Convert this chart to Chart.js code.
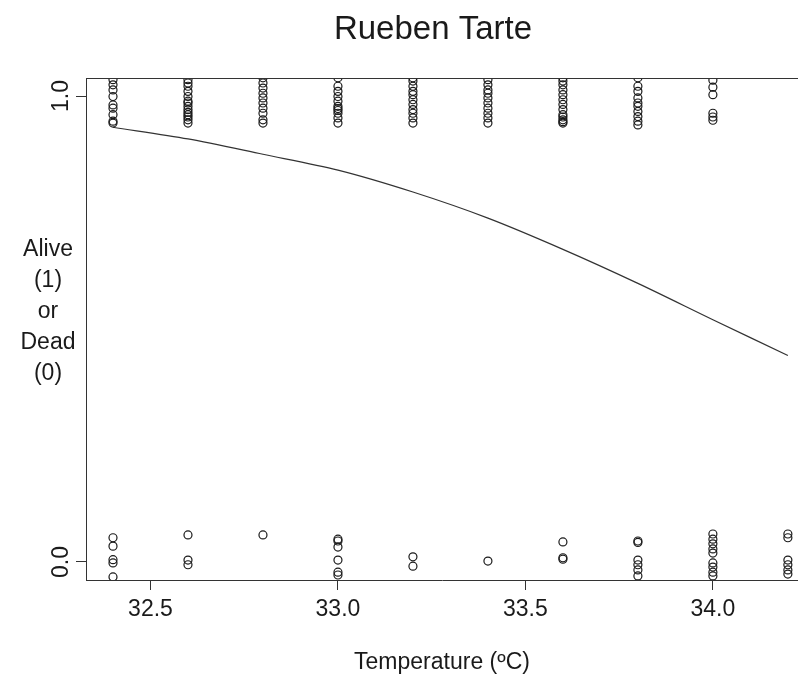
<!DOCTYPE html>
<html>
<head>
<meta charset="utf-8">
<script src="https://cdn.jsdelivr.net/npm/chart.js@4"></script>
<style>
    body { margin: 0; background: #fff; }
    #wrap { width: 798px; height: 676px; }
</style>
</head>
<body>
<div id="wrap"><canvas id="chart"></canvas></div>
<script>
// 温度ごとの列
const temps = [32.4, 32.6, 32.8, 33.0, 33.2, 33.4, 33.6, 33.8, 34.0, 34.2];

// 生存 (1) の点, y はジッター込みで読み取り
const aliveY = [
    [1.035, 1.024, 1.013, 0.999, 0.981, 0.974, 0.960, 0.946, 0.942],
    [1.035, 1.028, 1.021, 1.010, 0.999, 0.989, 0.985, 0.978, 0.971, 0.965, 0.960, 0.955, 0.949, 0.942],
    [1.039, 1.028, 1.017, 1.006, 0.996, 0.985, 0.974, 0.963, 0.949, 0.942],
    [1.039, 1.021, 1.010, 0.999, 0.989, 0.978, 0.973, 0.969, 0.963, 0.953, 0.942],
    [1.039, 1.032, 1.021, 1.010, 1.003, 0.992, 0.982, 0.971, 0.963, 0.953, 0.942],
    [1.035, 1.024, 1.013, 1.006, 0.996, 0.985, 0.974, 0.963, 0.953, 0.942],
    [1.039, 1.032, 1.024, 1.013, 1.003, 0.992, 0.982, 0.971, 0.960, 0.955, 0.949, 0.945, 0.942],
    [1.039, 1.021, 1.010, 0.996, 0.985, 0.978, 0.967, 0.956, 0.946, 0.938],
    [1.034, 1.019, 1.003, 0.963, 0.955, 0.948],
    []
];

// 死亡 (0) の点
const deadY = [
    [0.052, 0.034, 0.005, -0.002, -0.032],
    [0.058, 0.004, -0.006],
    [0.058],
    [0.049, 0.045, 0.032, 0.004, -0.022, -0.028],
    [0.011, -0.009],
    [0.002],
    [0.043, 0.009, 0.006],
    [0.045, 0.042, 0.004, -0.006, -0.017, -0.030],
    [0.060, 0.049, 0.039, 0.028, 0.019, -0.002, -0.011, -0.022, -0.030],
    [0.060, 0.052, 0.004, -0.006, -0.017, -0.026]
];

// ロジスティック回帰の曲線
const curveProb = [0.933, 0.908, 0.875, 0.841, 0.794, 0.738, 0.671, 0.598, 0.520, 0.443];

const xTicks = [32.5, 33.0, 33.5, 34.0];
const yTicks = [0, 1];
const yTickLabels = ['0.0', '1.0'];
const yTitleLines = ['Alive', '(1)', 'or', 'Dead', '(0)'];
const chartTitle = 'Rueben Tarte';
const xTitle = 'Temperature (ºC)';

const FONT = "'Liberation Sans', Arial, Helvetica, sans-serif";
const INK = '#1a1a1a';

function toPoints(cols) {
    const pts = [];
    cols.forEach((ys, i) => ys.forEach(y => pts.push({ x: temps[i], y: y })));
    return pts;
}

// 枠・タイトル・y軸ラベルを描く
const framePlugin = {
    id: 'frame',
    afterDraw(chart) {
        const ctx = chart.ctx;
        const area = chart.chartArea;
        const yScale = chart.scales.y;
        ctx.save();
        ctx.strokeStyle = '#333';
        ctx.lineWidth = 1;
        ctx.beginPath();
        ctx.moveTo(area.left, area.top + 0.5);
        ctx.lineTo(area.right, area.top + 0.5);
        ctx.stroke();

        ctx.fillStyle = INK;
        ctx.textAlign = 'center';
        ctx.textBaseline = 'middle';

        ctx.font = '33px ' + FONT;
        ctx.fillText(chartTitle, 433, 30);

        ctx.font = '23px ' + FONT;
        yTitleLines.forEach((t, i) => ctx.fillText(t, 48, 250 + i * 31));

        yTicks.forEach((v, i) => {
            const py = yScale.getPixelForValue(v);
            ctx.save();
            ctx.translate(62, py);
            ctx.rotate(-Math.PI / 2);
            ctx.fillText(yTickLabels[i], 0, 0);
            ctx.restore();
        });
        ctx.restore();
    }
};

new Chart(document.getElementById('chart'), {
    type: 'scatter',
    data: {
        datasets: [
            {
                label: 'alive',
                data: toPoints(aliveY),
                pointStyle: 'circle',
                pointRadius: 4,
                pointBorderWidth: 1.2,
                pointBorderColor: INK,
                pointBackgroundColor: 'rgba(0,0,0,0)',
                clip: 0
            },
            {
                label: 'dead',
                data: toPoints(deadY),
                pointStyle: 'circle',
                pointRadius: 4,
                pointBorderWidth: 1.2,
                pointBorderColor: INK,
                pointBackgroundColor: 'rgba(0,0,0,0)',
                clip: 0
            },
            {
                type: 'line',
                label: 'fit',
                data: temps.map((t, i) => ({ x: t, y: curveProb[i] })),
                borderColor: '#333',
                borderWidth: 1.2,
                pointRadius: 0,
                tension: 0.3,
                fill: false,
                clip: 0
            }
        ]
    },
    options: {
        responsive: true,
        maintainAspectRatio: false,
        animation: false,
        layout: { autoPadding: false, padding: { top: 78, left: 0, right: 0, bottom: 0 } },
        plugins: {
            legend: { display: false },
            title: { display: false },
            tooltip: { enabled: false }
        },
        scales: {
            x: {
                type: 'linear',
                min: 32.328,
                max: 34.227,
                afterBuildTicks: s => { s.ticks = xTicks.map(v => ({ value: v })); },
                afterFit: s => { s.height = 96; },
                border: { display: true, color: '#333', width: 1 },
                grid: { drawOnChartArea: false, drawTicks: true, tickLength: 10, color: '#333' },
                ticks: {
                    color: INK,
                    padding: 6,
                    maxRotation: 0,
                    font: { family: FONT, size: 23 },
                    callback: v => Number(v).toFixed(1)
                },
                title: {
                    display: true,
                    text: xTitle,
                    color: INK,
                    padding: { top: 0, bottom: 0 },
                    font: { family: FONT, size: 23 }
                }
            },
            y: {
                type: 'linear',
                min: -0.0387,
                max: 1.0387,
                afterBuildTicks: s => { s.ticks = yTicks.map(v => ({ value: v })); },
                afterFit: s => { s.width = 86; },
                border: { display: true, color: '#333', width: 1 },
                grid: { drawOnChartArea: false, drawTicks: true, tickLength: 10, color: '#333' },
                ticks: { display: false }
            }
        }
    },
    plugins: [framePlugin]
});
</script>
</body>
</html>
